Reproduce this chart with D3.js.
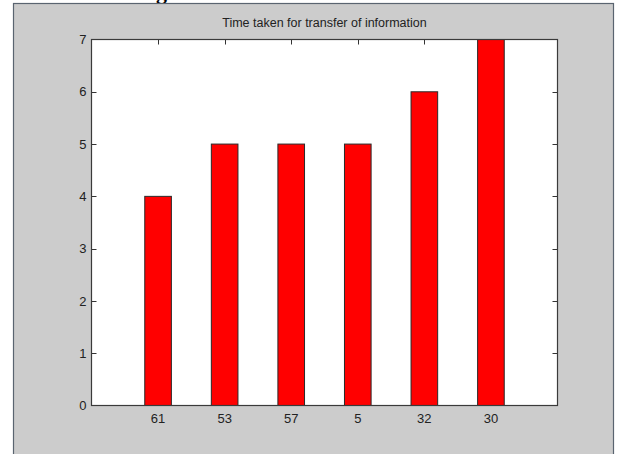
<!DOCTYPE html>
<html>
<head>
<meta charset="utf-8">
<script src="https://cdn.jsdelivr.net/npm/d3@7/dist/d3.min.js"></script>
<style>
  html, body { margin: 0; padding: 0; background: #ffffff; }
  svg { display: block; }
  text { font-family: "Liberation Sans", Arial, sans-serif; fill: #222; }
</style>
</head>
<body>
<script>
// Node labels along the x axis and the transfer time for each
const categories = ["61", "53", "57", "5", "32", "30"];
const times = [4, 5, 5, 5, 6, 7];
const yTicks = [0, 1, 2, 3, 4, 5, 6, 7];
const title = "Time taken for transfer of information";

const W = 617, H = 454;
const plot = { left: 91.5, right: 557.5, top: 39.5, bottom: 405.5 };

const svg = d3.select("body").append("svg")
  .attr("width", W).attr("height", H);

// fragment of the caption line sitting above the figure
svg.append("text")
  .attr("x", 156).attr("y", -1)
  .style("font-family", "'Liberation Serif', 'DejaVu Serif', serif")
  .style("font-weight", "bold")
  .style("font-size", "22px")
  .style("fill", "#000")
  .text("g");

// figure window background
svg.append("rect")
  .attr("x", 13.5).attr("y", 3.5)
  .attr("width", 600).attr("height", 460)
  .attr("fill", "#cccccc")
  .attr("stroke", "#5a6470").attr("stroke-width", 1.2);

const x = d3.scaleLinear().domain([0, categories.length + 1])
  .range([plot.left, plot.right]);
const y = d3.scaleLinear().domain([0, 7])
  .range([plot.bottom, plot.top]);
const barW = 0.4;

// axes background
svg.append("rect")
  .attr("x", plot.left).attr("y", plot.top)
  .attr("width", plot.right - plot.left).attr("height", plot.bottom - plot.top)
  .attr("fill", "#ffffff");

// inward tick marks (drawn under the bars)
const tickG = svg.append("g").attr("stroke", "#333").attr("stroke-width", 1);
const tl = 5;
yTicks.slice(1, -1).forEach(t => {
  const yy = Math.round(y(t)) + 0.5;
  tickG.append("line").attr("x1", plot.left).attr("x2", plot.left + tl).attr("y1", yy).attr("y2", yy);
  tickG.append("line").attr("x1", plot.right).attr("x2", plot.right - tl).attr("y1", yy).attr("y2", yy);
});
categories.forEach((c, i) => {
  const xx = Math.round(x(i + 1)) + 0.5;
  tickG.append("line").attr("x1", xx).attr("x2", xx).attr("y1", plot.top).attr("y2", plot.top + tl);
  tickG.append("line").attr("x1", xx).attr("x2", xx).attr("y1", plot.bottom).attr("y2", plot.bottom - tl);
});

// bars
svg.append("g").selectAll("rect")
  .data(times)
  .join("rect")
  .attr("x", (d, i) => x(i + 1 - barW / 2))
  .attr("y", d => y(d))
  .attr("width", (d, i) => x(i + 1 + barW / 2) - x(i + 1 - barW / 2))
  .attr("height", d => y(0) - y(d))
  .attr("fill", "#ff0000")
  .attr("stroke", "#2a2a2a").attr("stroke-width", 1);

// axes box
svg.append("rect")
  .attr("x", plot.left).attr("y", plot.top)
  .attr("width", plot.right - plot.left).attr("height", plot.bottom - plot.top)
  .attr("fill", "none").attr("stroke", "#3a3a3a").attr("stroke-width", 1.2);

// y tick labels
svg.append("g").selectAll("text")
  .data(yTicks)
  .join("text")
  .attr("x", plot.left - 5)
  .attr("y", d => y(d))
  .attr("dy", "0.36em")
  .attr("text-anchor", "end")
  .style("font-size", "13px")
  .text(d => d);

// x tick labels
svg.append("g").selectAll("text")
  .data(categories)
  .join("text")
  .attr("x", (d, i) => x(i + 1))
  .attr("y", plot.bottom + 17)
  .attr("text-anchor", "middle")
  .style("font-size", "13px")
  .text(d => d);

// title
svg.append("text")
  .attr("x", (plot.left + plot.right) / 2)
  .attr("y", 27)
  .attr("text-anchor", "middle")
  .style("font-size", "12.5px")
  .text(title);
</script>
</body>
</html>
